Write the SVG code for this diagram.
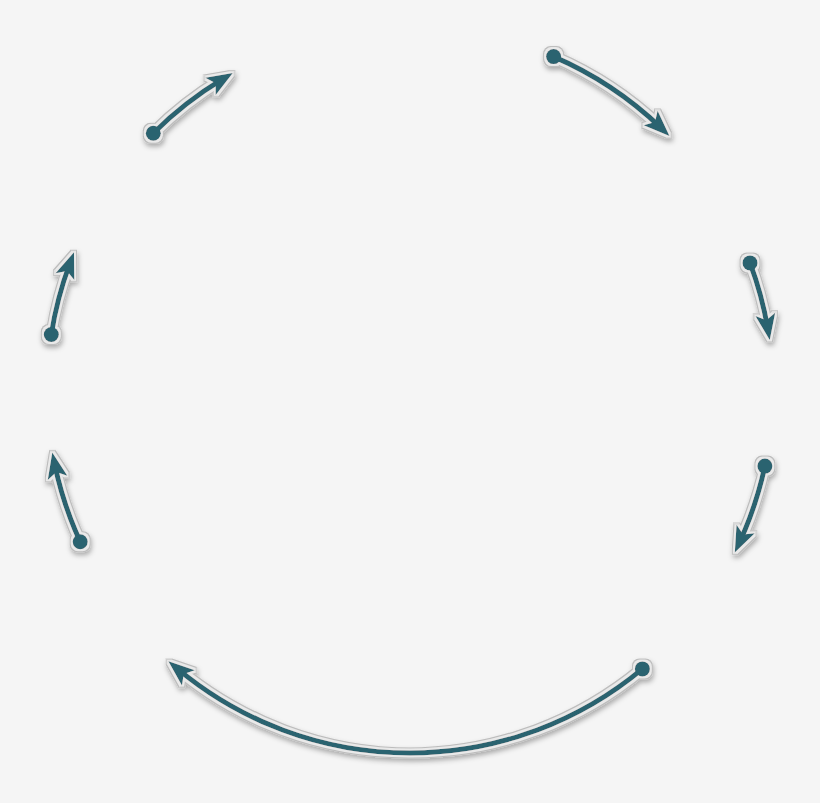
<svg xmlns="http://www.w3.org/2000/svg" width="820" height="803" viewBox="0 0 820 803">
<defs>
<filter id="halo" filterUnits="userSpaceOnUse" x="0" y="0" width="820" height="803">
<feMorphology in="SourceAlpha" operator="dilate" radius="3" result="d3"/>
<feGaussianBlur in="d3" stdDeviation="2.5" result="b"/>
<feOffset in="b" dx="1" dy="3" result="sh"/>
<feFlood flood-color="#000" flood-opacity="0.3"/>
<feComposite in2="sh" operator="in" result="shadow"/>
<feFlood flood-color="#bdbdbd"/>
<feComposite in2="d3" operator="in" result="rim"/>
<feMorphology in="SourceAlpha" operator="dilate" radius="2" result="d2"/>
<feFlood flood-color="#e9e9e9"/>
<feComposite in2="d2" operator="in" result="white"/>
<feMerge>
<feMergeNode in="shadow"/>
<feMergeNode in="rim"/>
<feMergeNode in="white"/>
<feMergeNode in="SourceGraphic"/>
</feMerge>
</filter>
<marker id="head" markerUnits="userSpaceOnUse" markerWidth="26" markerHeight="22" viewBox="0 0 26 22" refX="14" refY="11" orient="auto" overflow="visible">
<path d="M0,1 L26,11 L0,21 L6,11 Z" fill="#2c6470"/>
</marker>
<marker id="dot" markerUnits="userSpaceOnUse" markerWidth="16" markerHeight="16" viewBox="-8 -8 16 16" refX="0" refY="0" overflow="visible">
<circle r="7.5" fill="#2c6470"/>
</marker>
</defs>
<style>
.arc{fill:none;stroke:#2c6470;stroke-width:5;marker-start:url(#dot);marker-end:url(#head);}
</style>
<rect width="820" height="803" fill="#f5f5f5"/>
<g id="connectors" filter="url(#halo)">
<path id="c1" class="arc" d="M553.6,56.6 A363,363 0 0 1 660.8,127.6"/>
<path id="c2" class="arc" d="M750,262.9 A363,363 0 0 1 767.7,328.2"/>
<path id="c3" class="arc" d="M764.9,466.1 A363,363 0 0 1 739.8,541.7"/>
<path id="c4" class="arc" d="M642.4,668.9 A363,363 0 0 1 177.6,668.9"/>
<path id="c5" class="arc" d="M80.2,541.7 A363,363 0 0 1 54.7,464.2"/>
<path id="c6" class="arc" d="M51.3,334.5 A363,363 0 0 1 69.8,263.5"/>
<path id="c7" class="arc" d="M153.3,133.3 A363,363 0 0 1 222.5,79.2"/>
</g>
</svg>
